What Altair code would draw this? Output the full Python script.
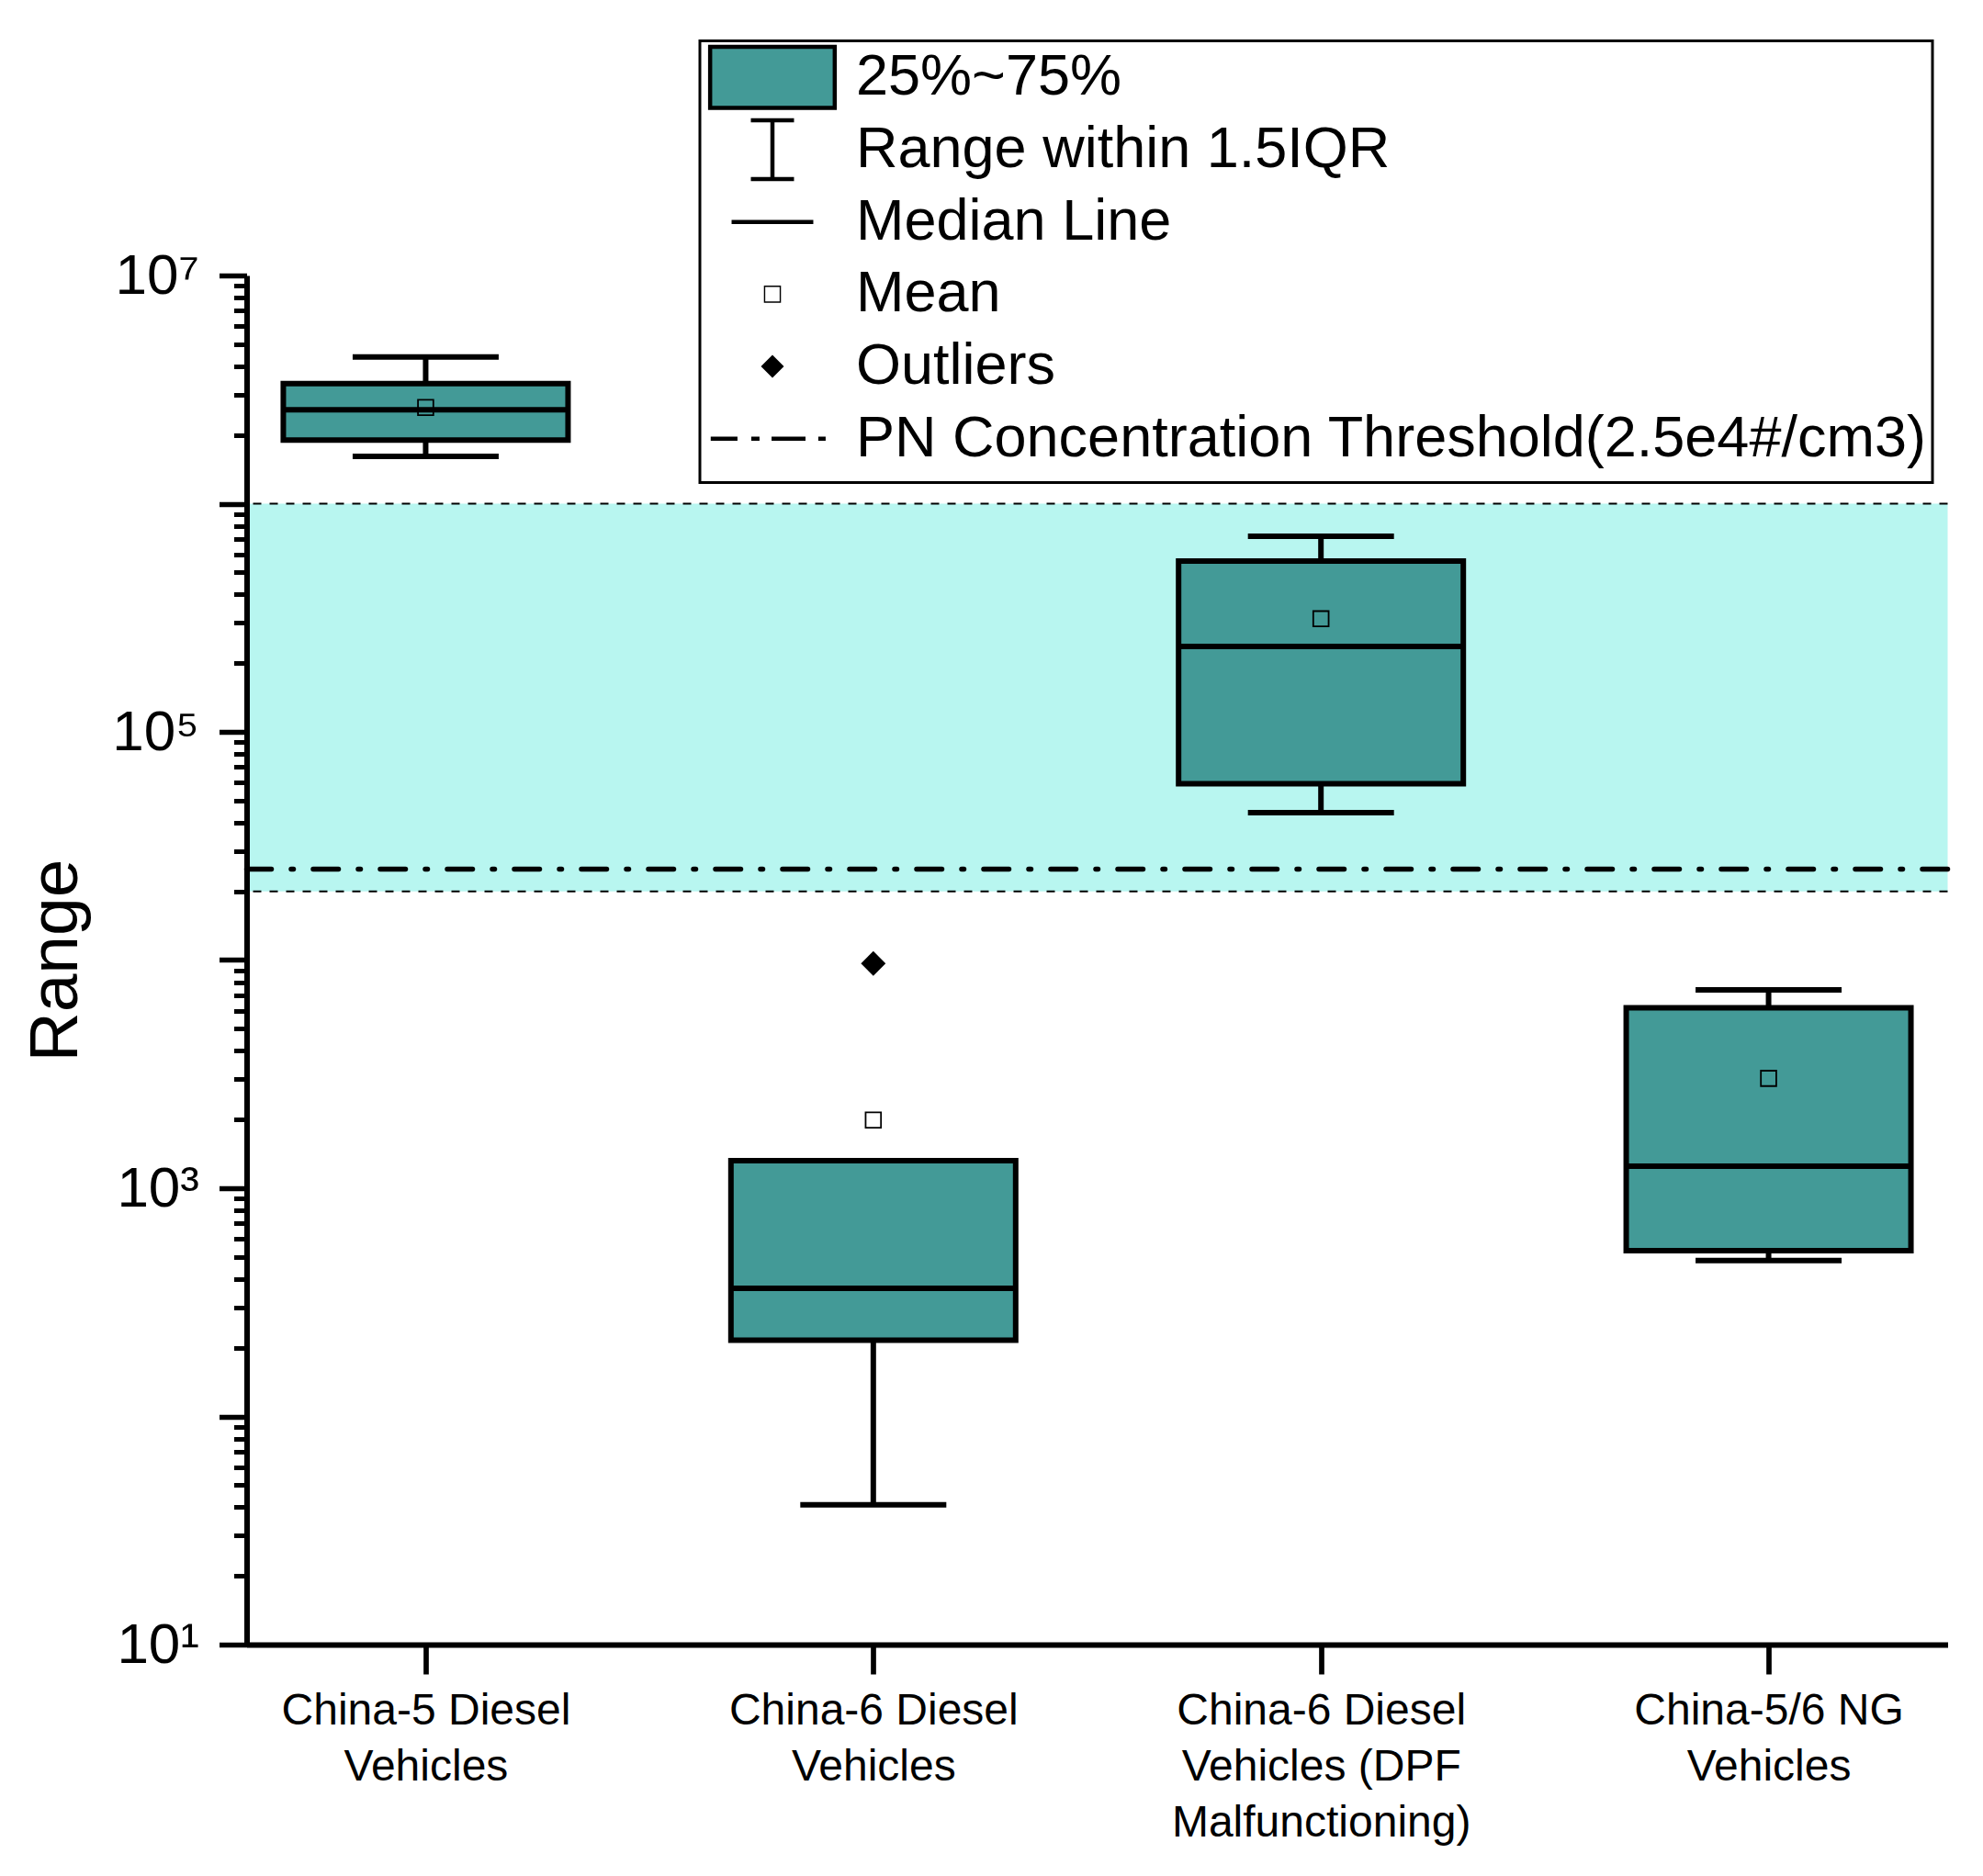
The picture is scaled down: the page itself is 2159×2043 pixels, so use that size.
import json
import altair as alt
import pandas as pd

FONT = "Liberation Sans"
BOX_COLOR = "#439A97"
BAND_COLOR = "#b8f6f0"
LW = 6

# ---------------- data ----------------
categories = [
    "China-5 Diesel Vehicles",
    "China-6 Diesel Vehicles",
    "China-6 Diesel Vehicles (DPF Malfunctioning)",
    "China-5/6 NG Vehicles",
]
category_label_lines = [
    ["China-5 Diesel", "Vehicles"],
    ["China-6 Diesel", "Vehicles"],
    ["China-6 Diesel", "Vehicles (DPF", "Malfunctioning)"],
    ["China-5/6 NG", "Vehicles"],
]
whisker_low = [1.61e6, 41.0, 4.42e4, 482.0]
q1 = [1.90e6, 216.0, 5.93e4, 533.0]
median = [2.58e6, 364.0, 2.37e5, 1250.0]
q3 = [3.36e6, 1320.0, 5.60e5, 6180.0]
whisker_high = [4.39e6, 1320.0, 7.19e5, 7400.0]
mean = [2.64e6, 1990.0, 3.13e5, 3030.0]

outlier_category = ["China-6 Diesel Vehicles"]
outlier_value = [9660.0]

band_low = 2.0e4
band_high = 1.0e6
threshold = 2.5e4

legend_labels = [
    "25%~75%",
    "Range within 1.5IQR",
    "Median Line",
    "Mean",
    "Outliers",
    "PN Concentration Threshold(2.5e4#/cm3)",
]

y_major_ticks = [1e1, 1e2, 1e3, 1e4, 1e5, 1e6, 1e7]
y_label_values = [1e1, 1e3, 1e5, 1e7]
y_label_texts = ["10\u00b9", "10\u00b3", "10\u2075", "10\u2077"]
y_minor_ticks = [m * 10.0 ** k for k in range(1, 7) for m in range(2, 10)]

# ---------------- legend symbol styling ----------------
# every symbol path carries the same vertical extent (move-to points only) so rows are even
EXT = "M0,-1.039M0,1.039"
legend_fills = [BOX_COLOR, "transparent", "transparent", "black", "black", "transparent"]
legend_strokes = ["black", "black", "black", "transparent", "transparent", "black"]
legend_shapes = [
    "M-2.12,-1.039H2.12V1.039H-2.12Z",
    EXT + "M-0.734,-1H0.734M0,-1V1M-0.734,1H0.734",
    EXT + "M-1.39,0H1.39",
    EXT + "M-0.29,-0.29H0.29V0.29H-0.29ZM-0.245,-0.245V0.245H0.245V-0.245Z",
    EXT + "M0,-0.39L0.39,0L0,0.39L-0.39,0Z",
    EXT + "M-2.1,0H-1.19M-0.72,0H-0.44M-0.03,0H1.125M1.56,0H1.81",
]

# ---------------- tables ----------------
stats = pd.DataFrame({
    "category": categories,
    "wlo": whisker_low,
    "q1": q1,
    "median": median,
    "q3": q3,
    "whi": whisker_high,
    "mean": mean,
})
outliers_df = pd.DataFrame({"category": outlier_category, "value": outlier_value})
band_df = pd.DataFrame({"lo": [band_low], "hi": [band_high]})
edges_df = pd.DataFrame({"v": [band_high, band_low]})
thr_df = pd.DataFrame({"v": [threshold]})
legend_df = pd.DataFrame({"item": legend_labels})

# ---------------- expressions ----------------
y_label_expr = "''"
for v, t in reversed(list(zip(y_label_values, y_label_texts))):
    y_label_expr = f"datum.value == {v} ? '{t}' : ({y_label_expr})"

x_label_expr = "datum.label"
for c, lines in reversed(list(zip(categories, category_label_lines))):
    x_label_expr = f"datum.label == '{c}' ? {json.dumps(lines)} : ({x_label_expr})"

# ---------------- scales / axes ----------------
x_scale = alt.Scale(type="point", padding=0.4, domain=categories)
y_scale = alt.Scale(type="log", domain=[10, 1e7], nice=False)

x_axis = alt.Axis(
    title=None, labelExpr=x_label_expr, labelFont=FONT, labelFontSize=48,
    labelLineHeight=61, labelColor="black", labelPadding=16, labelAngle=0,
    labelLimit=1000, labelBaseline="top", tickSize=32, tickWidth=5.7,
    tickColor="black", domainColor="black", domainWidth=6, grid=False,
    labelOverlap=False, zindex=1,
)
y_axis_major = alt.Axis(
    orient="left", title="Range", titleFont=FONT, titleFontSize=75,
    titleFontWeight="normal", titleColor="black", titlePadding=22,
    values=y_major_ticks, labelExpr=y_label_expr, labelFont=FONT,
    labelFontSize=62, labelColor="black", labelPadding=22, labelFlush=False,
    labelOverlap=False, tickSize=30, tickWidth=5.5, tickColor="black",
    domainColor="black", domainWidth=6, grid=False, zindex=1,
)
y_axis_minor = alt.Axis(
    orient="left", title=None, values=y_minor_ticks, labels=False,
    domain=False, tickSize=14, tickWidth=5, tickColor="black", grid=False,
    zindex=1,
)


def X():
    return alt.X("category:N", scale=x_scale, axis=x_axis, title=None)


def Y(field, axis=None):
    return alt.Y(field, scale=y_scale, axis=axis, title=None if axis is not y_axis_major else "Range")


base = alt.Chart(stats)

band = alt.Chart(band_df).mark_rect(color=BAND_COLOR).encode(y=Y("lo:Q"), y2="hi:Q")
edges = alt.Chart(edges_df).mark_rule(color="black", strokeWidth=2, strokeDash=[9, 9]).encode(y=Y("v:Q"))
thr = alt.Chart(thr_df).mark_rule(
    color="black", strokeWidth=5.5, strokeDash=[27.5, 21.5, 2.5, 21.5], strokeCap="round"
).encode(y=Y("v:Q"))

whisk_lo = base.mark_rule(color="black", strokeWidth=LW).encode(
    x=X(), y=Y("wlo:Q", y_axis_minor), y2="q1:Q"
)
whisk_hi = base.mark_rule(color="black", strokeWidth=LW).encode(
    x=X(), y=Y("q3:Q"), y2="whi:Q"
)
cap_lo = base.mark_tick(orient="horizontal", size=159, thickness=LW, color="black", opacity=1).encode(
    x=X(), y=Y("wlo:Q")
)
cap_hi = base.mark_tick(orient="horizontal", size=159, thickness=LW, color="black", opacity=1).encode(
    x=X(), y=Y("whi:Q")
)
boxes = base.mark_bar(size=310, fill=BOX_COLOR, stroke="black", strokeWidth=LW, opacity=1).encode(
    x=X(), y=Y("q1:Q", y_axis_major), y2="q3:Q"
)
medians = base.mark_tick(orient="horizontal", size=310, thickness=LW, color="black", opacity=1).encode(
    x=X(), y=Y("median:Q")
)
means = base.mark_point(shape="square", size=280, filled=False, color="black", strokeWidth=1.8, opacity=1).encode(
    x=X(), y=Y("mean:Q")
)
outl = alt.Chart(outliers_df).mark_point(shape="diamond", size=720, filled=True, color="black", opacity=1).encode(
    x=X(), y=Y("value:Q")
)

leg = alt.Legend(
    title=None, orient="none", legendX=493.5, legendY=-255.5, padding=5.25,
    symbolSize=4096, symbolStrokeWidth=4.5, symbolOffset=39.25, labelOffset=56.5,
    rowPadding=-6.3, labelFont=FONT, labelFontSize=63, labelColor="black",
    labelLimit=3000, fillColor="white", strokeColor="black",
    symbolFillColor="white", symbolOpacity=1,
)
legend_layer = alt.Chart(legend_df).mark_point(filled=True, opacity=0).encode(
    fill=alt.Fill("item:N", scale=alt.Scale(domain=legend_labels, range=legend_fills), legend=leg),
    stroke=alt.Stroke("item:N", scale=alt.Scale(domain=legend_labels, range=legend_strokes), legend=leg),
    shape=alt.Shape("item:N", scale=alt.Scale(domain=legend_labels, range=legend_shapes), legend=leg),
)

chart = (
    alt.layer(band, edges, thr, whisk_lo, whisk_hi, cap_lo, cap_hi, boxes, medians, means, outl, legend_layer)
    .resolve_axis(y="independent")
    .properties(
        width=1852,
        height=1491,
        autosize=alt.AutoSizeParams(type="none"),
        padding={"left": 260.5, "top": 292, "right": 30, "bottom": 240},
        background="white",
    )
    .configure_view(stroke=None)
    .configure_legend(strokeWidth=3)
)

chart.save("out.html", embed_options={"renderer": "svg", "actions": False})
